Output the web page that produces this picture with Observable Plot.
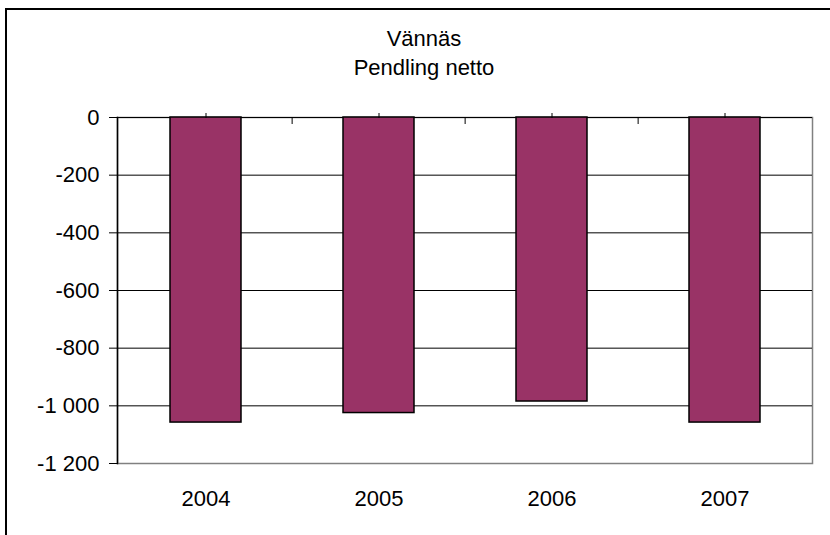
<!DOCTYPE html>
<html><head><meta charset="utf-8">
<script src="https://cdn.jsdelivr.net/npm/d3@7"></script>
<script src="https://cdn.jsdelivr.net/npm/@observablehq/plot@0.6"></script>
<style>
body{margin:0;background:#fff;}
#wrap{position:relative;width:830px;height:535px;overflow:hidden;font-family:"Liberation Sans",Arial,sans-serif;background:#fff;}
#border{position:absolute;left:5px;top:8px;width:900px;height:700px;border-left:2px solid #000;border-top:2px solid #000;}
.t{position:absolute;left:0;width:848px;text-align:center;font-size:22px;color:#000;line-height:26px;}
#chart{position:absolute;left:0;top:0;}
</style></head><body>
<div id="wrap"><div id="border"></div><div id="chart"></div>
<div class="t" style="top:26px">Vännäs</div><div class="t" style="top:55px">Pendling netto</div></div>
<script>
const years = ["2004", "2005", "2006", "2007"];
const values = [-1058, -1025, -985, -1058];
const yTicks = [0, -200, -400, -600, -800, -1000, -1200];

const fmt = d3.formatLocale({decimal: ",", thousands: "\u00a0", grouping: [3], currency: ["", ""], minus: "-"}).format(",d");
const W = 830, H = 535, mL = 117, mR = 18, mT = 117, mB = 72;
const step = (W - mL - mR) / years.length;
const data = years.map((y, i) => ({year: y, value: values[i]}));

const plot = Plot.plot({
  width: W, height: H, marginLeft: mL, marginRight: mR, marginTop: mT, marginBottom: mB,
  style: {fontFamily: "Liberation Sans, Arial, sans-serif", fontSize: "22px", color: "#000", background: "transparent"},
  x: {domain: years, paddingInner: 0.59, paddingOuter: 0.295},
  y: {domain: [-1200, 0]},
  marks: [
    Plot.frame({stroke: "#808080", strokeWidth: 1.5}),
    Plot.ruleY(yTicks.filter(d => d > -1200), {y: d => d, stroke: "#000", strokeWidth: 1}),
    Plot.frame({anchor: "left", stroke: "#000", strokeWidth: 1.5}),
    Plot.barY(data, {x: "year", y: "value", fill: "#993366", stroke: "#000", strokeWidth: 1.5}),
    Plot.axisY({ticks: yTicks, tickFormat: fmt, tickSize: 8, tickPadding: 10, label: null}),
    Plot.axisX({anchor: "bottom", tickSize: 0, tickPadding: 27, label: null}),
    Plot.axisX({anchor: "top", tickSize: 5, tickFormat: () => "", label: null}),
    Plot.ruleX(years.slice(1), {x: d => d, y1: 0, y2: 0, dx: -step / 2, insetBottom: -7, stroke: "#000"})
  ]
});
document.getElementById("chart").appendChild(plot);
</script>
</body></html>
